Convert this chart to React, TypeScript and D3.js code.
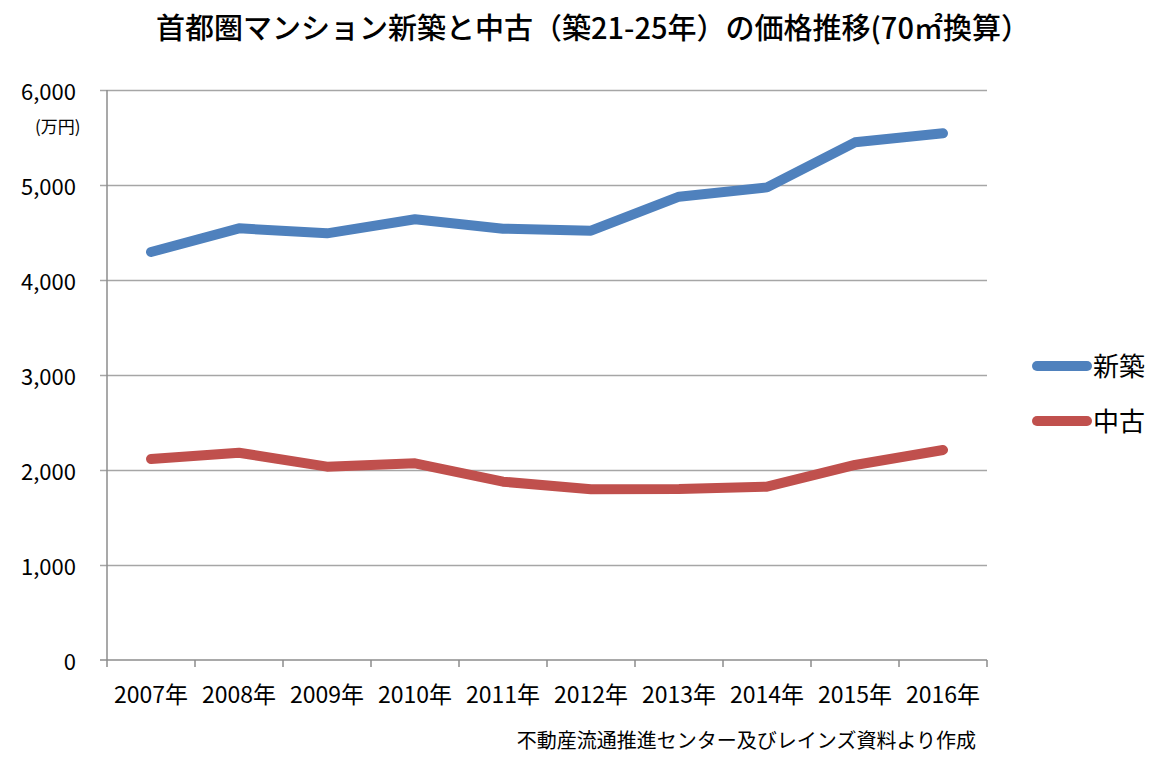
import React, { useRef, useEffect } from 'react'
import * as d3 from 'd3'

const years = ['2007年', '2008年', '2009年', '2010年', '2011年', '2012年', '2013年', '2014年', '2015年', '2016年']
const newBuilt = [4295, 4544, 4491, 4639, 4540, 4519, 4877, 4975, 5449, 5544]
const used = [2116, 2182, 2035, 2070, 1877, 1797, 1800, 1824, 2053, 2211]
const yTicks = [0, 1000, 2000, 3000, 4000, 5000, 6000]

const series = [
  { name: '新築', values: newBuilt, color: '#4F81BD' },
  { name: '中古', values: used, color: '#C0504D' },
]

const FONT = '"Noto Sans CJK JP", "Open Sans", sans-serif'

export default function App() {
  const svgRef = useRef<SVGSVGElement>(null)

  useEffect(() => {
    const svg = d3.select(svgRef.current)
    svg.selectAll('*').remove()

    const width = 1164, height = 767
    const left = 107, right = 987, top = 90, bottom = 660

    svg.attr('width', width).attr('height', height).style('display', 'block')
    svg.append('rect').attr('width', width).attr('height', height).attr('fill', '#fff')

    svg.append('text')
      .attr('x', 593).attr('y', 39)
      .attr('text-anchor', 'middle')
      .attr('font-family', FONT).attr('font-size', '29px').attr('font-weight', 500)
      .attr('fill', '#000')
      .text('首都圏マンション新築と中古（築21-25年）の価格推移(70㎡換算）')

    const x = d3.scaleBand<string>().domain(years).range([left, right])
    const y = d3.scaleLinear().domain([0, 6000]).range([bottom, top])

    // grid
    svg.append('g').selectAll('line')
      .data(yTicks.filter(d => d > 0))
      .join('line')
      .attr('x1', left - 7).attr('x2', right)
      .attr('y1', d => y(d) + 0.5).attr('y2', d => y(d) + 0.5)
      .attr('stroke', '#a6a6a6').attr('stroke-width', 1.5)

    // axes
    svg.append('line')
      .attr('x1', left).attr('x2', left)
      .attr('y1', top).attr('y2', bottom)
      .attr('stroke', '#8c8c8c').attr('stroke-width', 1.5)
    svg.append('line')
      .attr('x1', left - 7).attr('x2', right)
      .attr('y1', bottom).attr('y2', bottom)
      .attr('stroke', '#8c8c8c').attr('stroke-width', 1.5)

    const xTicks = [...years.map(d => x(d)!), right]
    svg.append('g').selectAll('line')
      .data(xTicks)
      .join('line')
      .attr('x1', d => d).attr('x2', d => d)
      .attr('y1', bottom).attr('y2', bottom + 7)
      .attr('stroke', '#8c8c8c').attr('stroke-width', 1.5)

    svg.append('g').selectAll('text')
      .data(yTicks)
      .join('text')
      .attr('x', 76).attr('y', d => y(d) + 10)
      .attr('text-anchor', 'end')
      .attr('font-family', FONT).attr('font-size', '22px')
      .attr('fill', '#000')
      .text(d => d3.format(',')(d))

    svg.append('text')
      .attr('x', 35).attr('y', 133)
      .attr('font-family', FONT).attr('font-size', '17px')
      .attr('fill', '#000')
      .text('(万円)')

    svg.append('g').selectAll('text')
      .data(years)
      .join('text')
      .attr('x', d => x(d)! + x.bandwidth() / 2).attr('y', 703)
      .attr('text-anchor', 'middle')
      .attr('font-family', FONT).attr('font-size', '23px')
      .attr('fill', '#000')
      .text(d => d)

    const line = d3.line<number>()
      .x((_, i) => x(years[i])! + x.bandwidth() / 2)
      .y(d => y(d))

    series.forEach(s => {
      svg.append('path')
        .attr('d', line(s.values))
        .attr('fill', 'none')
        .attr('stroke', s.color).attr('stroke-width', 10)
        .attr('stroke-linecap', 'round').attr('stroke-linejoin', 'round')
    })

    // legend
    const legend = svg.append('g')
    series.forEach((s, i) => {
      const ly = 366 + i * 55
      legend.append('line')
        .attr('x1', 1037).attr('x2', 1087)
        .attr('y1', ly).attr('y2', ly)
        .attr('stroke', s.color).attr('stroke-width', 10)
        .attr('stroke-linecap', 'round')
      legend.append('text')
        .attr('x', 1093).attr('y', ly + 10)
        .attr('font-family', FONT).attr('font-size', '26px')
        .attr('fill', '#000')
        .text(s.name)
    })

    svg.append('text')
      .attr('x', 976).attr('y', 748)
      .attr('text-anchor', 'end')
      .attr('font-family', FONT).attr('font-size', '20px')
      .attr('fill', '#000')
      .text('不動産流通推進センター及びレインズ資料より作成')
  }, [])

  return <svg ref={svgRef} style={{ position: 'absolute', left: 0, top: 0 }} />
}
